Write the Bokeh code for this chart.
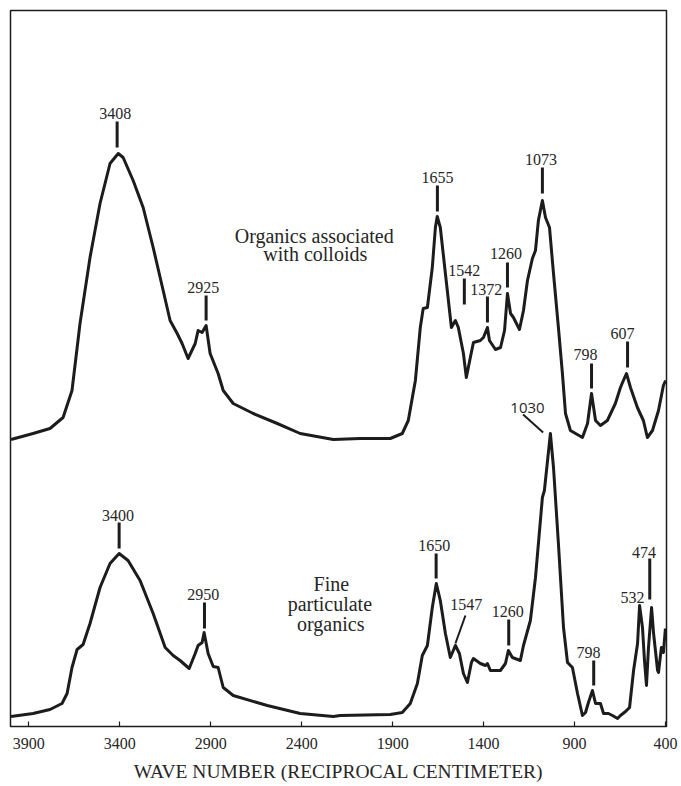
from bokeh.plotting import figure
from bokeh.models import Range1d, FixedTicker, ColumnDataSource
from bokeh.core.properties import value
from bokeh.embed import file_html
from bokeh.resources import INLINE

# ---------------- data ----------------
# Upper spectrum: organics associated with colloids
colloid_wn = [3997, 3876, 3783, 3711, 3662, 3618, 3563, 3508, 3453, 3408, 3381, 3326,
              3271, 3216, 3161, 3123, 3084, 3057, 3024, 2985, 2969, 2947, 2925, 2903,
              2859, 2831, 2776, 2666, 2534, 2408, 2226, 2078, 1913, 1847, 1814, 1775,
              1748, 1732, 1709, 1682, 1665, 1655, 1638, 1610, 1577, 1555, 1539, 1511,
              1495, 1473, 1456, 1418, 1401, 1379, 1368, 1335, 1307, 1285, 1269, 1252,
              1236, 1203, 1181, 1159, 1132, 1115, 1099, 1077, 1060, 1038, 1016, 989,
              967, 950, 923, 857, 829, 807, 785, 758, 720, 676, 648, 632, 615, 593,
              555, 522, 500, 472, 439, 412, 400]
colloid_abs = [287, 293, 298, 309, 336, 403, 469, 523, 563, 573, 569, 546,
               519, 479, 436, 406, 393, 383, 368, 383, 396, 394, 401, 373,
               353, 336, 323, 313, 303, 293, 287, 288, 288, 293, 306, 346,
               399, 418, 419, 459, 499, 510, 499, 453, 399, 406, 399, 373,
               349, 369, 384, 386, 389, 399, 386, 377, 379, 396, 433, 413,
               409, 397, 416, 446, 468, 476, 506, 526, 509, 499, 453, 399,
               353, 313, 296, 289, 303, 333, 306, 301, 306, 323, 339, 346, 353, 339,
               319, 306, 289, 296, 316, 341, 346]

# Lower spectrum: fine particulate organics
fine_wn = [3997, 3876, 3783, 3717, 3689, 3662, 3634, 3601, 3563, 3508, 3453, 3403,
           3354, 3288, 3216, 3150, 3106, 3068, 3018, 2985, 2969, 2947, 2936, 2914,
           2886, 2859, 2831, 2776, 2589, 2408, 2226, 2188, 1913, 1847, 1803, 1764,
           1737, 1709, 1682, 1660, 1638, 1610, 1583, 1555, 1533, 1511, 1489, 1467,
           1456, 1418, 1390, 1379, 1363, 1308, 1280, 1264, 1242, 1198, 1181, 1143,
           1115, 1077, 1066, 1033, 1016, 989, 961, 939, 912, 884, 857, 840, 824,
           802, 785, 758, 741, 714, 692, 664, 648, 620, 598, 576, 554, 543, 527,
           516, 505, 494, 477, 466, 444, 439, 423, 412, 401]
fine_abs = [10, 13, 17, 23, 33, 59, 77, 82, 103, 139, 163, 173,
            166, 146, 113, 79, 71, 66, 58, 73, 81, 84, 94, 73,
            60, 59, 39, 31, 21, 13, 10, 11, 12, 14, 23, 43,
            71, 81, 119, 143, 126, 93, 69, 81, 73, 53, 44, 64,
            68, 63, 61, 63, 56, 56, 63, 76, 69, 66, 81, 106,
            149, 229, 236, 293, 259, 183, 99, 64, 59, 33, 11, 14, 24,
            36, 23, 23, 13, 13, 11, 8, 11, 15, 19, 56, 83, 121, 99,
            66, 41, 79, 119, 93, 56, 54, 79, 74, 98]

tick_values = [3900, 3400, 2900, 2400, 1900, 1400, 900, 400]

# Peak labels, upper spectrum
colloid_labels = ["3408", "2925", "1655", "1542", "1372", "1260", "1073", "798", "607"]
# Peak labels, lower spectrum
fine_labels = ["3400", "2950", "1650", "1547", "1260", "798", "532", "474"]
fine_label_1030 = "1030"

# ---------------- annotation placement ----------------
colloid_text_x = [3425, 2941, 1654, 1506, 1385, 1277, 1085, 840, 637]
colloid_text_y = [613, 439, 549, 456, 437, 473, 567, 372, 393]
colloid_line_x = [3414, 2925, 1654, 1506, 1379, 1269, 1077, 807, 609]
colloid_line_top = [605, 431, 541, 448, 430, 464, 559, 363, 385]
colloid_line_bot = [579, 406, 515, 422, 404, 439, 533, 338, 359]

fine_text_x = [3409, 2941, 1671, 1495, 1267, 824, 582, 518]
fine_text_y = [211, 132, 181, 122, 115, 74, 129, 174]
fine_vline_x = [3403, 2934, 1661, 1262, 795, 487]
fine_vline_top = [204, 124, 173, 107, 66, 168]
fine_vline_bot = [178, 98, 148, 81, 41, 127]
diag_x0 = [1500, 1183]
diag_y0 = [111, 312]
diag_x1 = [1555, 1073]
diag_y1 = [83, 294]

INK = "#1c1c1c"
TXT = "#262626"
SERIF = "Liberation Serif"

p = figure(width=681, height=786, output_backend="svg", toolbar_location=None,
           x_range=Range1d(4000, 395), y_range=Range1d(0, 716),
           min_border_left=10, min_border_right=15, min_border_top=10, min_border_bottom=60)
p.grid.visible = False
p.yaxis.visible = False
p.outline_line_color = INK
p.outline_line_width = 1.5
p.background_fill_color = "white"
p.border_fill_color = "white"

ax = p.xaxis[0]
ax.ticker = FixedTicker(ticks=tick_values)
ax.major_tick_in = 5
ax.major_tick_out = 0
ax.minor_tick_line_color = None
ax.major_tick_line_color = INK
ax.major_tick_line_width = 1.2
ax.axis_line_color = None
ax.major_label_text_font = SERIF
ax.major_label_text_font_size = "16px"
ax.major_label_text_color = TXT
ax.major_label_standoff = 11
ax.axis_label = "WAVE NUMBER (RECIPROCAL CENTIMETER)"
ax.axis_label_text_font = SERIF
ax.axis_label_text_font_size = "19.5px"
ax.axis_label_text_font_style = "normal"
ax.axis_label_text_color = TXT
ax.axis_label_standoff = 9

# spectra
p.line(colloid_wn, colloid_abs, line_color=INK, line_width=3, line_join="round")
p.line(fine_wn, fine_abs, line_color=INK, line_width=3, line_join="round")

# leader lines
p.segment(x0=colloid_line_x, y0=colloid_line_bot, x1=colloid_line_x, y1=colloid_line_top,
          line_color=INK, line_width=3)
p.segment(x0=fine_vline_x, y0=fine_vline_bot, x1=fine_vline_x, y1=fine_vline_top,
          line_color=INK, line_width=3)
p.segment(x0=diag_x0, y0=diag_y0, x1=diag_x1, y1=diag_y1, line_color=INK, line_width=2)

# peak labels
src_top = ColumnDataSource(dict(x=colloid_text_x, y=colloid_text_y, t=colloid_labels))
p.text(x="x", y="y", text="t", source=src_top, text_font=value(SERIF),
       text_font_size="16px", text_align="center", text_baseline="middle", text_color=TXT)
src_bot = ColumnDataSource(dict(x=fine_text_x, y=fine_text_y, t=fine_labels))
p.text(x="x", y="y", text="t", source=src_bot, text_font=value(SERIF),
       text_font_size="16px", text_align="center", text_baseline="middle", text_color=TXT)
p.text(x=[1159], y=[319], text=[fine_label_1030], text_font=value("Open Sans"),
       text_font_size="15px", text_align="center", text_baseline="middle", text_color=TXT)

# series captions
cap_src = ColumnDataSource(dict(
    x=[2331, 2325, 2237, 2245, 2240],
    y=[491, 473, 143, 123, 103],
    t=["Organics associated", "with colloids", "Fine", "particulate", "organics"]))
p.text(x="x", y="y", text="t", source=cap_src, text_font=value(SERIF),
       text_font_size="20px", text_align="center", text_baseline="middle", text_color=TXT)

open("out.html", "w").write(file_html(p, INLINE))
